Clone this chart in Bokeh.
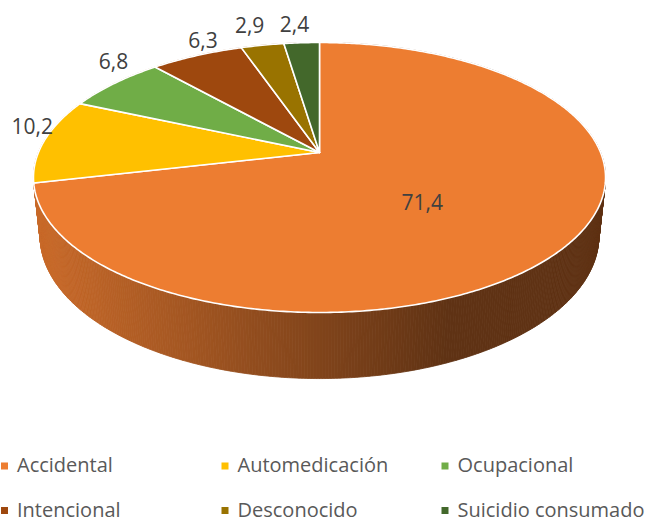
import numpy as np
from bokeh.plotting import figure
from bokeh.models import Range1d
from bokeh.embed import file_html
from bokeh.resources import INLINE
from bokeh.core.properties import value

# ---------------- data ----------------
categories = ["Accidental", "Automedicación", "Ocupacional",
              "Intencional", "Desconocido", "Suicidio consumado"]
values = [71.4, 10.2, 6.8, 6.3, 2.9, 2.4]
labels = ["71,4", "10,2", "6,8", "6,3", "2,9", "2,4"]
colors = ["#ED7D31", "#FFC000", "#70AD47", "#9E480E", "#997300", "#43682B"]

# ---------------- layout / style ----------------
FONT = "Open Sans"
CX, CY = 319.0, 152.0          # apex of pie on screen
F = 1345.0                      # focal scale
SIN_E, COS_E = 0.4638, 0.886    # camera elevation
DIST = 4.785                    # camera distance
THICK = 0.237                   # pie thickness
LABEL_R = [0.443, 1, 1, 1, 1, 1]
LABEL_OFF = [(0, 11.4), (-12.2, -14.3), (-1, -22.4), (6.2, -15.6), (-12.8, -20.7), (-7.2, -18.3)]
LEG_COLS = [16.5, 237, 457]
LEG_ROWS = [464.0, 508.5]


def proj(phi, r=1.0, z=0.0):
    X = r * np.sin(phi)
    Y = r * np.cos(phi)
    up = Y * SIN_E + z * COS_E
    depth = DIST + Y * COS_E - z * SIN_E
    return CX + F * X / depth, CY - F * up / depth


def hex2rgb(h):
    h = h.lstrip("#")
    return tuple(int(h[i:i + 2], 16) for i in (0, 2, 4))


def rgb2hex(c):
    return "#%02x%02x%02x" % tuple(int(max(0, min(255, round(v)))) for v in c)


total = float(sum(values))
fracs = np.array(values) / total
edges = np.concatenate([[0], np.cumsum(fracs)]) * 2 * np.pi

p = figure(width=652, height=521, x_range=Range1d(0, 652), y_range=Range1d(521, 0),
           output_backend="svg", toolbar_location=None, min_border=0,
           x_axis_type=None, y_axis_type=None)
p.grid.visible = False
p.outline_line_color = None
p.background_fill_color = "white"
p.border_fill_color = "white"

# ---------------- side wall (front slice colour, shaded) ----------------
front_idx = int(np.searchsorted(edges, np.pi, side="right") - 1)
base = hex2rgb(colors[front_idx])
N = 720
phis = np.linspace(0, 2 * np.pi, N + 1)
sxs, sys_, scol = [], [], []
for i in range(N):
    a, b = phis[i], phis[i + 1]
    x1, y1 = proj(a)
    x2, y2 = proj(b)
    x3, y3 = proj(b, z=-THICK)
    x4, y4 = proj(a, z=-THICK)
    xm = 0.5 * (x1 + x2)
    t = np.clip((xm - 40) / (450 - 40), 0, 1)
    fac = 0.845 - 0.445 * t
    c = rgb2hex([v * fac for v in base])
    sxs.append([x1, x2, x3, x4])
    sys_.append([y1, y2, y3, y4])
    scol.append(c)
p.patches(sxs, sys_, fill_color=scol, line_color=scol, line_width=0.8)

# ---------------- top face slices ----------------
txs, tys = [], []
for i in range(len(values)):
    a, b = edges[i], edges[i + 1]
    n = max(8, int((b - a) / (2 * np.pi) * 600))
    ang = np.linspace(a, b, n)
    xs, ys = proj(ang)
    txs.append([CX] + list(xs))
    tys.append([CY] + list(ys))
p.patches(txs, tys, fill_color=colors, line_color="white", line_width=1.6,
          line_join="round")

# ---------------- data labels ----------------
lx, ly = [], []
for i in range(len(values)):
    mid = 0.5 * (edges[i] + edges[i + 1])
    x, y = proj(mid, r=LABEL_R[i])
    lx.append(x + LABEL_OFF[i][0])
    ly.append(y + LABEL_OFF[i][1])
p.text(x=lx, y=ly, text=labels, text_font=value(FONT), text_font_size="21px",
       text_color="#404040", text_align="center", text_baseline="middle")

# ---------------- legend ----------------
gx, gy, mx, my = [], [], [], []
for i in range(len(categories)):
    col = LEG_COLS[i % 3]
    row = LEG_ROWS[i // 3]
    gx.append(col)
    gy.append(row)
    mx.append(col - 12.5)
    my.append(row + 1.5)
p.rect(x=mx, y=my, width=7, height=7, fill_color=colors, line_color=None)
p.text(x=gx, y=gy, text=categories, text_font=value(FONT), text_font_size="20px",
       text_color="#595959", text_align="left", text_baseline="middle")

open("out.html", "w").write(file_html(p, INLINE))
